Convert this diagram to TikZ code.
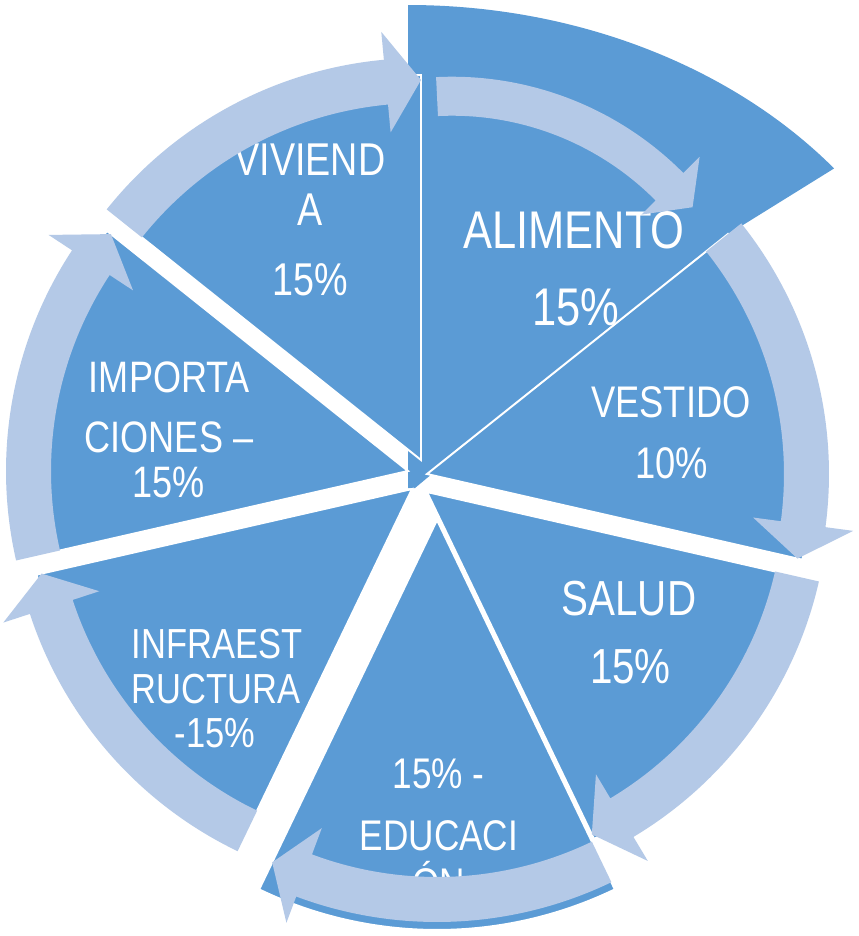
\documentclass[tikz,border=0pt]{standalone}
\usepackage{fontspec}
\newfontfamily\labfont[FakeStretch=0.82]{Liberation Sans}
\usetikzlibrary{calc}
\definecolor{segblue}{RGB}{91,155,213}
\definecolor{arrblue}{RGB}{180,201,231}
\newcommand\fsz[1]{\labfont\fontsize{#1}{#1}\selectfont}
% #1 apex, #2 start angle, #3 end angle, #4 radius
\newcommand\pieslice[4]{%
  \filldraw[slicestyle] (#1) -- ($(#1)+(#2:#4)$) arc[start angle=#2, end angle=#3, radius=#4] -- cycle;}
% #1 centre, #2 tail angle, #3 head base angle, #4 tip angle,
% #5 band inner r, #6 band outer r, #7 head inner r, #8 head outer r, #9 tip r
\newcommand\arcarrow[9]{%
  \fill[arrowstyle] ($(#1)+(#2:#6)$) arc[start angle=#2, end angle=#3, radius=#6]
    -- ($(#1)+(#3:#8)$) -- ($(#1)+(#4:#9)$) -- ($(#1)+(#3:#7)$) -- ($(#1)+(#3:#5)$)
    arc[start angle=#3, end angle=#2, radius=#5] -- cycle;}
\begin{document}
\begin{tikzpicture}[x=0.025cm,y=0.025cm,
  slicestyle/.style={fill=segblue, draw=white, line width=1.4pt},
  arrowstyle/.style={fill=arrblue},
  lbl/.style={text=white, anchor=base, inner sep=0pt}]
\fill[white] (0,0) rectangle (859,-936);
\useasboundingbox (0,0) rectangle (859,-936);
% apexes
\coordinate (cAli) at (408,-439);
\coordinate (cVes) at (427,-474);
\coordinate (cSal) at (427,-492);
\coordinate (cEdu) at (437,-520);
\coordinate (cInf) at (412,-489);
\coordinate (cImp) at (408,-471);
\coordinate (cViv) at (421,-460);
\coordinate (cAliArr) at (452,-402.7);
% ALIMENTO (enlarged, stretched segment)
\fill[segblue] (408,-5) arc[start angle=90, end angle=38.57, x radius=545, y radius=434]
  -- (743,-225) -- (700,-260) -- (427,-478) -- (415,-488) -- (408,-488) -- cycle;
% other segments
\pieslice{cVes}{-12.86}{38.57}{385}
\pieslice{cSal}{295.71}{347.14}{385}
\pieslice{cEdu}{244.29}{295.71}{410}
\pieslice{cInf}{192.86}{244.29}{385}
\pieslice{cImp}{141.43}{192.86}{385}
\pieslice{cViv}{90}{141.43}{385}
% labels
\node[lbl, font=\fsz{37.7}] (ali1) at (574,-248) {ALIMENTO};
\node[lbl, font=\fsz{37.7}] (ali2) at (576,-325) {15\%};
\node[lbl, font=\fsz{31.5}] (ves1) at (671,-417) {VESTIDO};
\node[lbl, font=\fsz{31.5}] (ves2) at (671.5,-478) {10\%};
\node[lbl, font=\fsz{35}] (sal1) at (629,-615) {SALUD};
\node[lbl, font=\fsz{35}] (sal2) at (630.5,-683) {15\%};
\node[lbl, font=\fsz{30.5}] (edu1) at (438.5,-788) {15\% -};
\node[lbl, font=\fsz{30.5}] (edu2) at (439,-850) {EDUCACI};
\node[lbl, font=\fsz{30.5}] (edu3) at (439,-898) {ÓN};
\node[lbl, font=\fsz{29.9}] (inf1) at (217,-658) {INFRAEST};
\node[lbl, font=\fsz{29.9}] (inf2) at (216,-703) {RUCTURA};
\node[lbl, font=\fsz{29.9}] (inf3) at (215,-747) {-15\%};
\node[lbl, font=\fsz{31.3}] (imp1) at (169.5,-392) {IMPORTA};
\node[lbl, font=\fsz{31.3}] (imp2) at (169,-452) {CIONES –};
\node[lbl, font=\fsz{31.3}] (imp3) at (168.5,-497) {15\%};
\node[lbl, font=\fsz{32.7}] (viv1) at (310,-175) {VIVIEND};
\node[lbl, font=\fsz{32.7}] (viv2) at (310,-225) {A};
\node[lbl, font=\fsz{32.7}] (viv3) at (310.5,-295) {15\%};
% cycle arrows
\arcarrow{cAliArr}{92.8}{44.8}{39.1}{287}{326}{267}{349}{310}
\arcarrow{cVes}{38.57}{-7.6}{-12.86}{357}{402}{329}{430}{380}
\arcarrow{cSal}{347.14}{300.9}{295.71}{357}{402}{329}{430}{380}
\arcarrow{cEdu}{295.71}{249.5}{244.29}{357}{402}{329}{430}{380}
\arcarrow{cInf}{244.29}{198.1}{192.86}{357}{402}{329}{430}{380}
\arcarrow{cImp}{192.86}{146.7}{141.43}{357}{402}{329}{430}{380}
\arcarrow{cViv}{141.43}{95.3}{90}{357}{402}{329}{430}{380}
\end{tikzpicture}
\end{document}
